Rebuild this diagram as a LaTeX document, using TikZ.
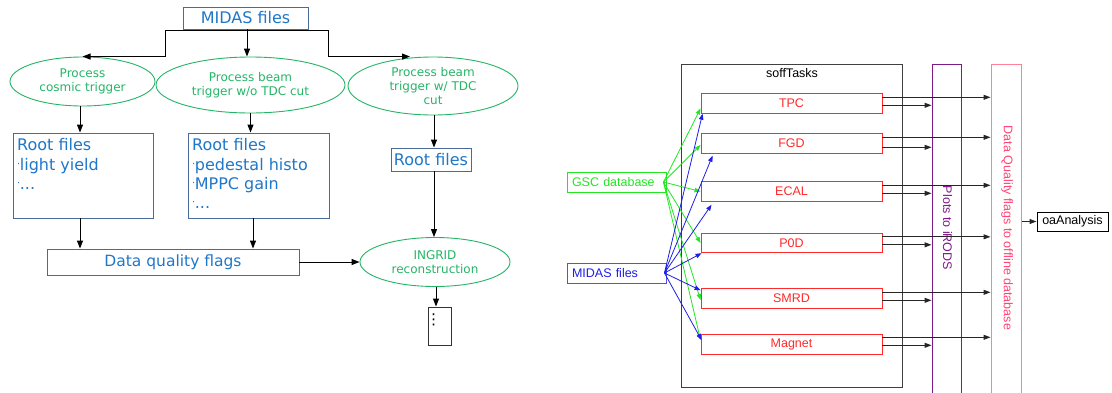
\documentclass[tikz,border=0pt]{standalone}
\usepackage{fontspec}
\setmainfont{DejaVu Sans}
\newfontfamily\arialf{Liberation Sans}
\usetikzlibrary{shapes.geometric,arrows.meta,calc}
\definecolor{lblue}{HTML}{1F77C9}
\definecolor{lbord}{HTML}{4A6A9A}
\definecolor{lgreen}{HTML}{25B567}
\definecolor{rgreen}{HTML}{22E622}
\definecolor{rblue}{HTML}{1E1EE6}
\definecolor{rblueb}{HTML}{5050F0}
\definecolor{rred}{HTML}{FF2A2A}
\definecolor{rpurp}{HTML}{7E1A88}
\definecolor{rpink}{HTML}{FF4477}
\definecolor{rpinkb}{HTML}{FF8098}
\newcommand\mybul{{\fontsize{10}{10}\selectfont\raisebox{2.5pt}{·}}\kern-0.5pt}
\begin{document}
\begin{tikzpicture}[x=1pt,y=-1pt,
  lbox/.style={draw=lbord, line width=0.9pt, text=lblue, inner sep=0pt, rectangle, font=\fontsize{16}{19.2}\selectfont},
  ltext/.style={anchor=north west, align=left, text=lblue, inner sep=0pt, font=\fontsize{16}{19.2}\selectfont},
  lell/.style={draw=lgreen, ellipse, line width=0.9pt, text=lgreen, inner sep=0pt, align=center, font=\fontsize{12}{14.4}\selectfont},
  larr/.style={-{Triangle[length=8pt,width=6pt]}, line width=1pt, black},
  rbox/.style={draw=rred, line width=0.9pt, text=rred, minimum width=181pt, minimum height=19.5pt, inner sep=0pt, font=\arialf\fontsize{12.5}{14}\selectfont},
  rsrc/.style={line width=0.9pt, minimum width=99pt, minimum height=20pt, inner xsep=5pt, inner ysep=0pt, text width=89pt, align=left, font=\arialf\fontsize{12.5}{14}\selectfont},
  garr/.style={-{Triangle[length=6pt,width=4.5pt]}, line width=0.8pt, rgreen},
  barr/.style={-{Triangle[length=6pt,width=4.5pt]}, line width=0.8pt, rblue},
  karr/.style={-{Triangle[length=7pt,width=5pt]}, line width=1pt, black!85},
  rlab/.style={font=\arialf\fontsize{12.5}{14}\selectfont, inner sep=0pt},
]
\useasboundingbox (0,0) rectangle (1112,392);
\fill[white] (0,0) rectangle (1112,392);

% ---------------- left panel ----------------
\node[lbox, minimum width=125pt, minimum height=22pt] (midas) at (245.5,18) {MIDAS files};
\node[lell, minimum width=145pt, minimum height=49pt] (e1) at (82.5,81.5) {Process\\cosmic trigger};
\node[lell, minimum width=189pt, minimum height=56pt] (e2) at (250.5,85) {Process beam\\trigger w/o TDC cut};
\node[lell, minimum width=170pt, minimum height=58pt] (e3) at (433,86) {Process beam\\trigger w/ TDC\\cut};
\node[lbox, minimum width=140pt, minimum height=85pt] (r1) at (83,175.5) {};
\node[ltext] (r1t) at (17,138.5) {Root files\\\mybul light yield\\\mybul...};
\node[lbox, minimum width=141pt, minimum height=85pt] (r2) at (258.5,175.5) {};
\node[ltext] (r2t) at (192,138.5) {Root files\\\mybul pedestal histo\\\mybul MPPC gain\\\mybul...};
\node[lbox, minimum width=80pt, minimum height=23pt] (r3) at (431,159.5) {Root files};
\node[lbox, minimum width=252pt, minimum height=26pt, font=\fontsize{15.5}{18}\selectfont] (dq) at (173,262) {Data quality flags};
\node[lell, minimum width=150pt, minimum height=49pt] (ing) at (435,262) {INGRID\\reconstruction};
\node[draw=black!80, line width=1pt, minimum width=23pt, minimum height=38pt, inner sep=0pt] (dots) at (439.5,326) {};
\node[inner sep=0pt, font=\fontsize{15}{15}\selectfont] (dotst) at (433.5,320) {⋮};

\coordinate (jl) at (165,30);
\coordinate (jr) at (328,30);
\draw[line width=1pt] (jl) -- (jr);
\draw[larr] (jl) |- (e1.north);
\draw[larr] (jr) |- ([xshift=-23pt]e3.north);
\draw[larr] ([xshift=1.5pt]midas.south) -- ([xshift=1.5pt]midas.south |- e2.north);
\draw[larr] ([xshift=-2.5pt]e1.south) -- ([xshift=-2.5pt]e1.south |- r1.north);
\draw[larr] (e2.south) -- (e2.south |- r2.north);
\draw[larr] ([xshift=1pt]e3.south) -- ([xshift=1pt]e3.south |- r3.north);
\draw[larr] ([xshift=3pt]r3.south) -- ([xshift=3pt]r3.south |- ing.north);
\draw[larr] ([xshift=-3pt]r1.south) -- ([xshift=-3pt]r1.south |- dq.north);
\draw[larr] ([xshift=-5.5pt]r2.south) -- ([xshift=-5.5pt]r2.south |- dq.north);
\draw[larr] (dq.east) -- (ing.west);
\draw[larr] ([xshift=1pt]ing.south) -- ([xshift=1pt]ing.south |- dots.north);

% ---------------- right panel ----------------
\node[draw=black!75, line width=1pt, minimum width=221pt, minimum height=323pt, inner sep=0pt] (soft) at (791.5,225.5) {};
\node[rlab] (softl) at (792,73.5) {soffTasks};
\node[rbox] (tpc) at (791.5,103.5) {TPC};
\node[rbox] (fgd) at (791.5,143.5) {FGD};
\node[rbox] (ecal) at (791.5,191.5) {ECAL};
\node[rbox] (pod) at (791.5,243) {P0D};
\node[rbox] (smrd) at (791.5,298.5) {SMRD};
\node[rbox] (magnet) at (791.5,344.5) {Magnet};

\node[rsrc, draw=rgreen, text=rgreen] (gsc) at (616.5,182) {GSC database};
\node[rsrc, draw=rblueb, text=rblue] (midr) at (616.5,273) {MIDAS files};

\node[draw=rpurp, line width=1pt, minimum width=29pt, minimum height=330pt, inner sep=0pt] (plots) at (946.5,229) {};
\node[rlab, rotate=-90, text=rpurp] (plotsl) at (947.5,228) {Plots to iRODS};
\node[draw=rpinkb, line width=1pt, minimum width=30pt, minimum height=330pt, inner sep=0pt] (dqr) at (1006,229) {};
\node[rlab, rotate=-90, text=rpink] (dqrl) at (1007,228) {Data Quality flags to offline database};
\node[draw=black, line width=1pt, minimum width=71pt, minimum height=19pt, inner sep=0pt, rlab] (oa) at (1072.5,221.5) {oaAnalysis};

\coordinate (gs) at ([xshift=-3pt]gsc.east);
\coordinate (mb) at ([xshift=-2pt]midr.east);

\draw[garr] (gs) -- ([yshift=-5pt]tpc.west);
\draw[garr] (gs) -- ([yshift=-1.5pt]fgd.west);
\draw[garr] (gs) -- (ecal.west);
\draw[garr] (gs) -- (pod.west);
\draw[garr] (gs) -- ([yshift=-1.5pt]smrd.west);
\draw[garr] (gs) -- ([yshift=4.5pt]magnet.west);

\draw[barr] (mb) -- ([xshift=2pt]tpc.south west);
\draw[barr] (mb) -- ([xshift=12pt,yshift=-2pt]fgd.south west);
\draw[barr] (mb) -- ([xshift=11pt,yshift=-3pt]ecal.south west);
\draw[barr] (mb) -- ([xshift=1pt]pod.south west);
\draw[barr] (mb) -- ([yshift=-2pt]smrd.north west);
\draw[barr] (mb) -- ([xshift=1pt,yshift=4.5pt]magnet.west);

\foreach \n/\a/\b in {tpc/4/12, fgd/4/14, ecal/4/12, pod/4/12, smrd/4/12, magnet/3/11} {
  \draw[karr] ([yshift=-\a pt]\n.north east) -- ([yshift=-\a pt]\n.north east -| dqr.west);
  \draw[karr] ([yshift=-\b pt]\n.north east) -- ([yshift=-\b pt]\n.north east -| plots.west);
}
\draw[karr] (dqr.east |- oa.west) -- (oa.west);
\end{tikzpicture}
\end{document}
